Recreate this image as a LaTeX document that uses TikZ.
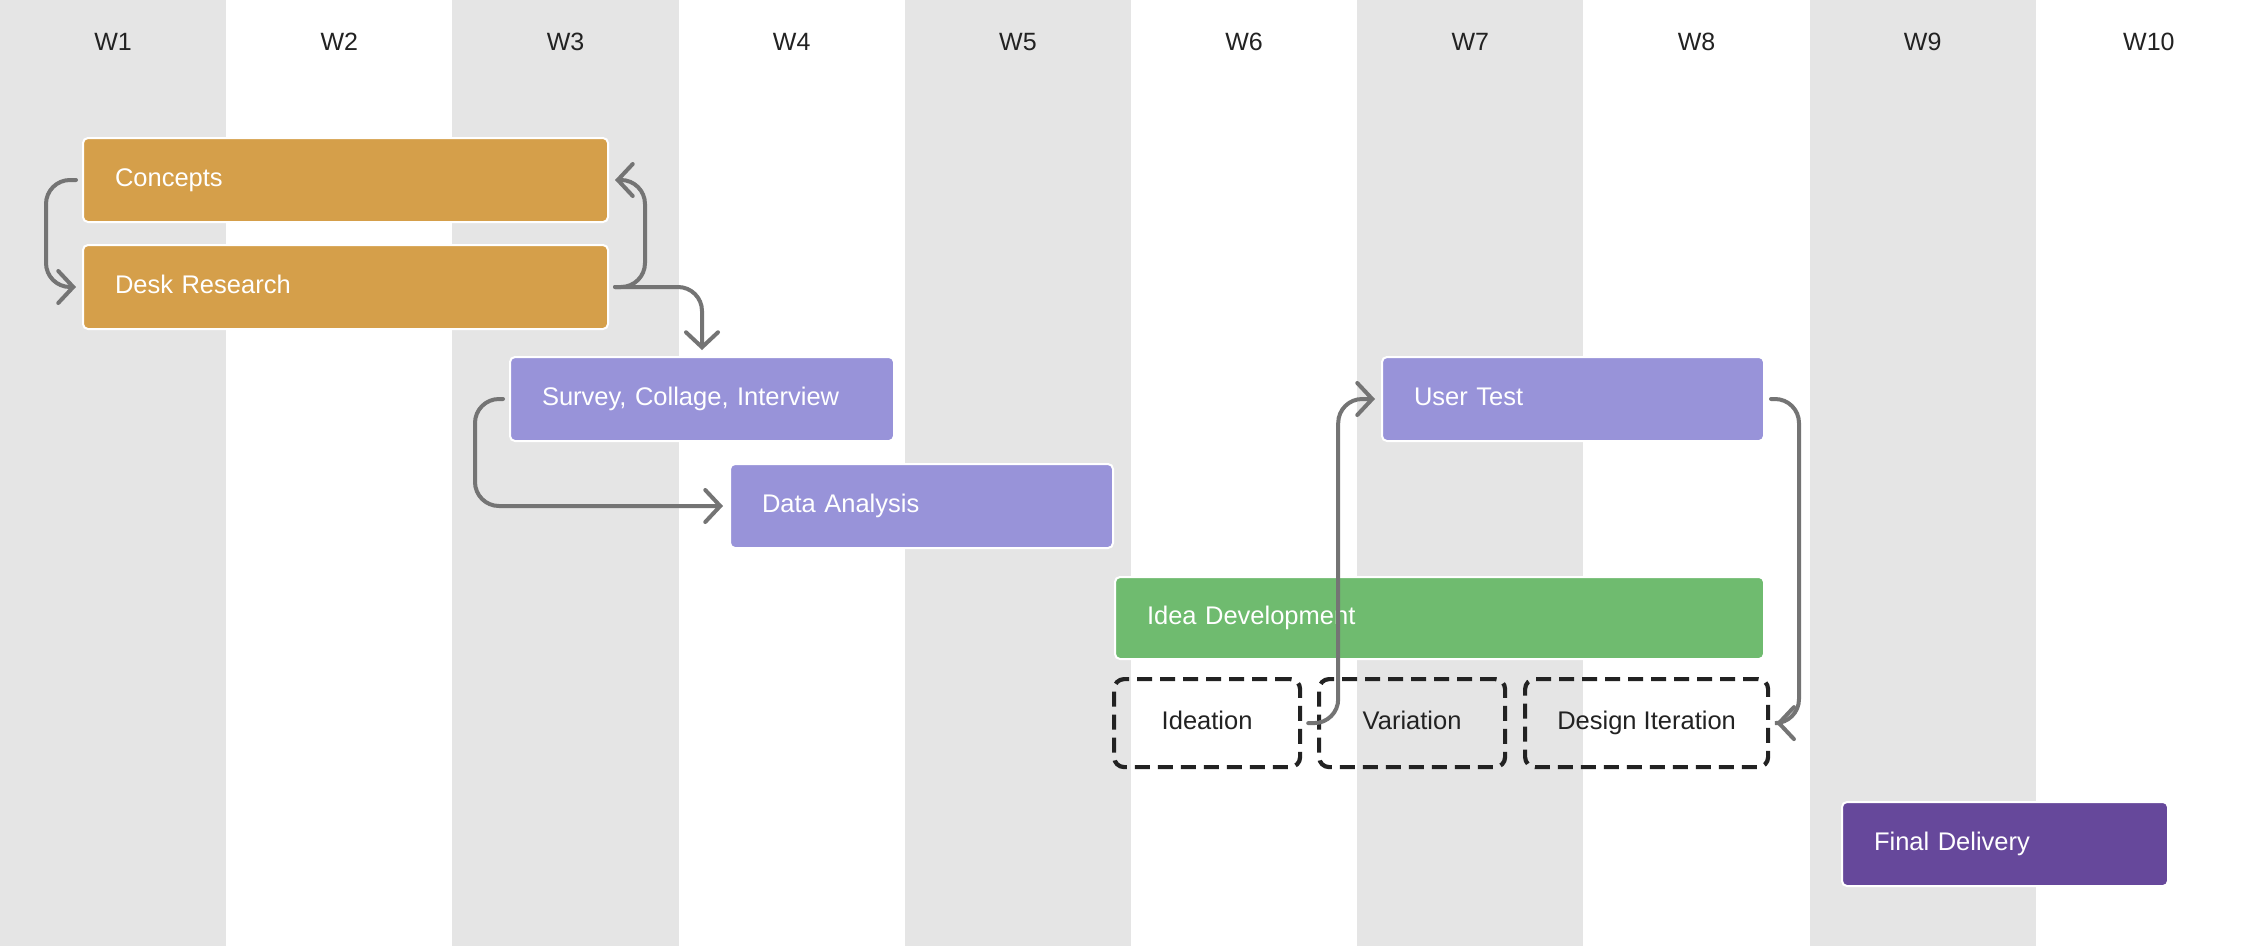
\documentclass[tikz,border=0pt]{standalone}
\usepackage{fontspec}
\setmainfont{Liberation Sans}
\usetikzlibrary{arrows.meta}
\definecolor{colgray}{HTML}{E5E5E5}
\definecolor{orangebar}{HTML}{D59F4A}
\definecolor{lilac}{HTML}{9893D9}
\definecolor{greenbar}{HTML}{6FBB6F}
\definecolor{plum}{HTML}{66489B}
\definecolor{conncol}{HTML}{747474}
\definecolor{ink}{HTML}{222222}
\begin{document}
\begin{tikzpicture}[x=1pt,y=-1pt,
  bar/.style={draw=white, line width=2pt, rounded corners=5pt, anchor=north west,
    inner xsep=32pt, inner ysep=0pt, minimum height=84pt, align=left, text=white,
    text height=18pt, text depth=5pt,
    font=\fontsize{25.5}{28}\selectfont},
  task/.style={draw=ink, line width=4.2pt, dash pattern=on 15pt off 8pt, rounded corners=10pt,
    anchor=north west, inner sep=0pt, minimum height=88pt, text=ink,
    text height=18pt, text depth=5pt,
    font=\fontsize{25.5}{28}\selectfont},
  head/.style={text=ink, font=\fontsize{25}{28}\selectfont},
  conn/.style={draw=conncol, line width=4pt, line cap=round, rounded corners=24pt,
    -{Straight Barb[length=15pt,width=32pt,line cap=round]}, shorten <=6pt, shorten >=6pt}]
\useasboundingbox (0,0) rectangle (2262,946);
\fill[white] (0,0) rectangle (2262,946);
\foreach \k in {0,2,4,6,8}{
  \fill[colgray] (226.2*\k,0) rectangle ++(226.2,946);
}
\foreach \k in {1,...,10}{
  \node[head] (w\k) at (226.2*\k-113.1,42) {W\k};
}
% bars
\node[bar, fill=orangebar, text width=461pt] (concepts) at (82,137) {Concepts};
\node[bar, fill=orangebar, text width=461pt] (desk) at (82,244) {Desk Research};
\node[bar, fill=lilac, text width=320pt] (survey) at (509,356) {Survey, Collage, Interview};
\node[bar, fill=lilac, text width=319pt] (data) at (729,463) {Data Analysis};
\node[bar, fill=lilac, text width=318pt] (usertest) at (1381,356) {User Test};
\node[bar, fill=greenbar, text width=585pt, minimum height=82pt] (ideadev) at (1114,576) {Idea Development};
\node[bar, fill=plum, text width=262pt] (final) at (1841,801) {Final Delivery};
% dashed sub-tasks
\node[task, minimum width=186pt] (ideation) at (1112,677) {Ideation};
\node[task, minimum width=186pt] (variation) at (1317,677) {Variation};
\node[task, minimum width=243pt] (designiter) at (1523,677) {Design Iteration};
% connectors
\draw[conn] (concepts.west) -- ++(-36,0) |- (desk.west);
\draw[conn] (desk.east) -- ++(36,0) |- (concepts.east);
\draw[conn] (desk.east) -| (survey.north);
\draw[conn] (survey.west) -- ++(-34,0) |- (data.west);
\draw[conn] (ideation.east) -- ++(36,0) |- (usertest.west);
\draw[conn] (usertest.east) -- ++(34,0) |- (designiter.east);
\end{tikzpicture}
\end{document}
